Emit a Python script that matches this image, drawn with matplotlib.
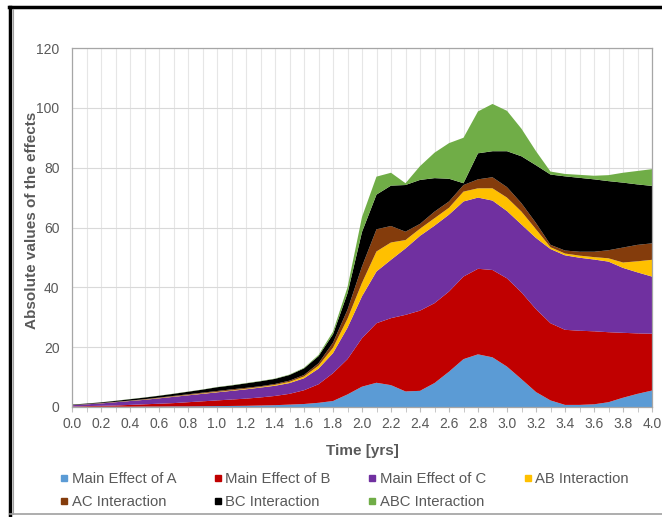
import numpy as np
import matplotlib
matplotlib.use("Agg")
import matplotlib.pyplot as plt
import matplotlib.ticker as ticker
from matplotlib.lines import Line2D

plt.rcParams['font.family'] = ['Liberation Sans', 'DejaVu Sans']

time_yrs = [round(0.1 * i, 1) for i in range(41)]

# stacked tops (cumulative), converted to series below
top_a   = [0.1, 0.1, 0.1, 0.1, 0.1, 0.15, 0.15, 0.2, 0.2, 0.25, 0.3, 0.35, 0.4, 0.5, 0.6, 0.8, 1.0, 1.4, 2.0, 4.2,
           6.8, 8.1, 7.3, 5.2, 5.4, 8.0, 11.8, 16.0, 17.6, 16.6, 13.5, 9.3, 5.0, 2.2, 0.7, 0.7, 0.9, 1.6, 3.1, 4.4, 5.5]
top_b   = [0.2, 0.3, 0.4, 0.5, 0.7, 0.9, 1.1, 1.3, 1.6, 1.9, 2.2, 2.5, 2.8, 3.2, 3.7, 4.4, 5.6, 7.6, 11.3, 16.0,
           23.0, 28.0, 29.7, 30.8, 32.2, 34.7, 38.6, 43.6, 46.2, 45.8, 43.0, 38.3, 32.7, 28.0, 25.8, 25.5, 25.3, 25.0, 24.8, 24.6, 24.5]
top_c   = [0.6, 0.9, 1.2, 1.6, 2.0, 2.4, 2.9, 3.4, 3.9, 4.4, 4.9, 5.4, 5.9, 6.5, 7.1, 8.0, 9.6, 12.8, 18.0, 26.5,
           37.0, 45.3, 49.2, 53.0, 57.2, 60.6, 64.3, 68.7, 70.0, 69.0, 65.5, 61.0, 56.5, 52.8, 50.7, 49.9, 49.3, 48.6, 46.5, 45.0, 43.6]
top_ab  = [0.62, 0.93, 1.25, 1.66, 2.07, 2.48, 3.0, 3.5, 4.0, 4.55, 5.05, 5.55, 6.1, 6.7, 7.4, 8.4, 10.2, 13.8, 19.8, 29.5,
           41.5, 52.0, 55.0, 55.8, 59.6, 63.1, 66.6, 72.0, 73.1, 73.1, 70.0, 65.3, 59.4, 53.4, 51.3, 50.6, 50.1, 49.7, 48.3, 48.7, 49.2]
top_ac  = [0.65, 0.97, 1.3, 1.72, 2.14, 2.6, 3.15, 3.7, 4.25, 4.8, 5.35, 5.9, 6.4, 6.95, 7.7, 8.8, 10.7, 14.6, 21.5, 32.5,
           47.0, 59.4, 60.5, 58.6, 61.2, 65.3, 68.7, 74.2, 76.1, 76.8, 73.5, 68.1, 61.5, 54.2, 52.3, 51.9, 51.9, 52.4, 53.3, 54.2, 54.7]
top_bc  = [0.8, 1.15, 1.55, 2.05, 2.6, 3.15, 3.75, 4.4, 5.1, 5.8, 6.6, 7.2, 7.9, 8.6, 9.4, 10.7, 12.9, 17.0, 24.3, 38.0,
           58.5, 71.0, 74.0, 74.2, 75.9, 76.5, 76.3, 74.8, 84.8, 85.5, 85.5, 83.8, 80.8, 77.7, 77.1, 76.6, 76.1, 75.5, 75.0, 74.4, 73.9]
top_abc = [0.82, 1.18, 1.58, 2.1, 2.65, 3.2, 3.8, 4.46, 5.16, 5.86, 6.68, 7.3, 8.0, 8.7, 9.5, 10.85, 13.1, 17.4, 25.2, 40.0,
           63.5, 77.0, 78.3, 74.8, 80.5, 85.0, 88.2, 90.0, 98.8, 101.3, 99.0, 93.0, 85.5, 78.7, 77.9, 77.6, 77.3, 77.5, 78.3, 78.9, 79.5]

labels = ['Main Effect of A', 'Main Effect of B', 'Main Effect of C', 'AB Interaction',
          'AC Interaction', 'BC Interaction', 'ABC Interaction']
colors = ['#5B9BD5', '#C00000', '#7030A0', '#FFC000', '#843C0C', '#000000', '#70AD47']

tops = np.array([top_a, top_b, top_c, top_ab, top_ac, top_bc, top_abc])
series = np.diff(np.vstack([np.zeros(len(time_yrs)), tops]), axis=0)

fig = plt.figure(figsize=(6.62, 5.17), dpi=100)
ax = fig.add_axes([72/662, 110/517, 580/662, 359/517])

ax.stackplot(time_yrs, series, colors=colors, labels=labels, linewidth=0)

ax.set_xlim(0, 4)
ax.set_ylim(0, 120)
ax.xaxis.set_major_locator(ticker.MultipleLocator(0.2))
ax.xaxis.set_minor_locator(ticker.MultipleLocator(0.1))
ax.xaxis.set_major_formatter(ticker.FormatStrFormatter('%.1f'))
ax.yaxis.set_major_locator(ticker.MultipleLocator(20))
ax.grid(which='both', axis='x', color='#E6E6E6', lw=0.8)
ax.grid(which='major', axis='y', color='#D9D9D9', lw=0.8)
ax.set_axisbelow(True)

grey = '#595959'
ax.tick_params(axis='x', which='both', length=3.5, color='#BFBFBF', labelsize=10, labelcolor=grey, pad=4)
ax.tick_params(axis='y', length=0, labelsize=10, labelcolor=grey, pad=9)
for s in ax.spines.values():
    s.set_color('#A6A6A6')
    s.set_linewidth(0.9)

ax.set_xlabel('Time [yrs]', fontsize=11, fontweight='bold', color=grey)
ax.set_ylabel('Absolute values of the effects', fontsize=11, fontweight='bold', color=grey)
ax.xaxis.set_label_coords(0.5, -0.102)
ax.yaxis.set_label_coords(-0.057, 0.52)

# legend fills column-wise, so reorder to read row-wise like the original
order = [0, 4, 1, 5, 2, 6, 3]
handles = [Line2D([], [], marker='s', ls='none', markersize=5, color=colors[i]) for i in order]
fig.legend(handles, [labels[i] for i in order], ncol=4, loc='upper left',
           bbox_to_anchor=(60/662, 1 - 472/517),
           frameon=False, fontsize=10.7, labelcolor=grey, handlelength=0.6, handletextpad=0.2,
           columnspacing=2.5, borderpad=0, borderaxespad=0, labelspacing=0.62)

# screenshot frame: black top/left edge, grey bottom
fig.add_artist(Line2D([10/662, 10/662], [0, 1 - 7/517], color='black', lw=2.5, transform=fig.transFigure))
fig.add_artist(Line2D([9/662, 1], [1 - 7/517, 1 - 7/517], color='black', lw=2.5, transform=fig.transFigure))
fig.add_artist(Line2D([13/662, 13/662], [3/517, 1 - 9/517], color='#A0A0A0', lw=0.8, transform=fig.transFigure))
fig.add_artist(Line2D([10/662, 1], [3/517, 3/517], color='#A0A0A0', lw=1.2, transform=fig.transFigure))

fig.savefig('out.png', dpi=100)
